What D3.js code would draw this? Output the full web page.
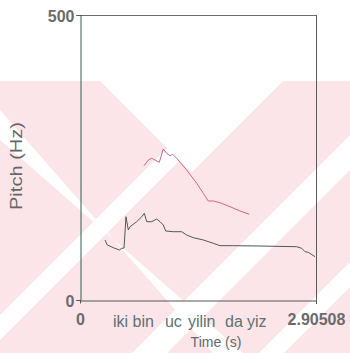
<!DOCTYPE html>
<html><head><meta charset="utf-8">
<script src="https://cdn.jsdelivr.net/npm/d3@7"></script>
<style>body{margin:0;background:#fff}svg{display:block}</style>
</head><body>
<svg id="c" width="350" height="353"></svg>
<script>
// Data
const lowTime  = [0.308,0.336,0.410,0.484,0.513,0.542,0.566,0.595,0.616,0.698,0.760,0.792,0.821,0.883,0.944,0.985,1.025,1.055,1.149,1.252,1.313,1.395,1.518,1.641,1.723,1.887,2.216,2.668,2.729,2.770,2.810,2.893];
const lowPitch = [105.3,96.5,91.8,87.7,90.7,91.2,146.1,122.8,128.6,137.4,146.1,152.1,137.4,137.4,142.1,137.4,131.6,121.1,119.8,119.8,114.0,109.3,105.3,99.5,95.3,95.3,94.7,93.5,90.7,84.7,83.7,76.0];
const highTime  = [0.788,0.841,0.883,0.923,0.976,1.025,1.067,1.108,1.141,1.190,1.313,1.437,1.518,1.579,1.641,1.723,1.847,1.970,2.084];
const highPitch = [235.6,245.6,248.6,245.6,241.6,264.9,257.4,253.2,255.6,248.6,228.1,204.7,187.2,173.7,173.7,170.7,163.7,156.1,150.4];
const xTicks = [0, 2.90508];
const xTickLabels = ["0", "2.90508"];
const yTicks = [0, 500];
const yTickLabels = ["0", "500"];
const wordLabels = ["iki bin", "uc", "yilin", "da", "yiz"];
const wordTimes  = [0.406, 1.046, 1.329, 1.785, 2.056];
const xTitle = "Time (s)";
const yTitle = "Pitch (Hz)";

const svg = d3.select("#c");
const W = 350, H = 353;
const x = d3.scaleLinear().domain([0, 2.90508]).range([80, 316]);
const y = d3.scaleLinear().domain([0, 500]).range([300, 15]);

// faint scanned watermark in the background
const wm = svg.append("g");
wm.append("rect").attr("x",0).attr("y",81).attr("width",W).attr("height",H-81).attr("fill","#fce5e9");
const whites = [
  [[100,81],[283,81],[191.5,172.5]],
  [[0,110],[0,140],[243,353],[213,353]],
  [[234,81],[259,81],[0,340],[0,315]],
  [[350,135],[350,170],[167,353],[132,353]],
  [[350,262],[350,287],[284,353],[259,353]]
];
whites.forEach(p => wm.append("path").attr("d", d3.line()(p) + "Z").attr("fill","#ffffff"));

// frame
const fr = svg.append("g").attr("fill","none").attr("stroke-width",1);
fr.append("line").attr("x1",x(0)).attr("x2",x(2.90508)).attr("y1",y(500)+0.5).attr("y2",y(500)+0.5).attr("stroke","#6a6a6a");
fr.append("line").attr("x1",x(2.90508)+0.5).attr("x2",x(2.90508)+0.5).attr("y1",y(500)).attr("y2",y(0)+4).attr("stroke","#5a5a5a");

// axes
const yAxis = d3.axisLeft(y).tickValues(yTicks).tickFormat((d,i)=>yTickLabels[i]).tickSize(4).tickPadding(2);
const gy = svg.append("g").attr("transform","translate(80.5,0)").call(yAxis);
gy.select(".domain").attr("stroke","#2f5d55");
gy.selectAll(".tick line").attr("stroke","#555");
gy.selectAll(".tick text").attr("font-family","Liberation Sans, Arial, sans-serif").attr("font-size",16).attr("font-weight","bold").attr("fill","#6b6b6b").attr("dy","0.38em");

const xAxis = d3.axisBottom(x).tickValues(xTicks).tickFormat((d,i)=>xTickLabels[i]).tickSize(3).tickSizeOuter(0).tickPadding(10);
const gx = svg.append("g").attr("transform","translate(0,300.5)").call(xAxis);
gx.select(".domain").attr("stroke","#555");
gx.selectAll(".tick line").attr("stroke","#555");
gx.selectAll(".tick text").attr("font-family","Liberation Sans, Arial, sans-serif").attr("font-size",16).attr("font-weight","bold").attr("fill","#6b6b6b");

// titles
svg.append("text").attr("x",216).attr("y",347).attr("text-anchor","middle")
  .attr("font-family","Liberation Sans, Arial, sans-serif").attr("font-size",14).attr("fill","#5f6b6b").text(xTitle);
svg.append("text").attr("transform","translate(22,166) rotate(-90)").attr("text-anchor","middle")
  .attr("font-family","Liberation Sans, Arial, sans-serif").attr("font-size",17).attr("fill","#666")
  .attr("textLength",88).attr("lengthAdjust","spacingAndGlyphs").text(yTitle);

// word labels
svg.append("g").selectAll("text").data(wordLabels).join("text")
  .attr("x",(d,i)=>x(wordTimes[i])).attr("y",327)
  .attr("font-family","Liberation Sans, Arial, sans-serif").attr("font-size",16).attr("fill","#5e7272")
  .text(d=>d);

// series
const lineGen = d3.line().x(d=>x(d[0])).y(d=>y(d[1]));
svg.append("path").datum(lowTime.map((t,i)=>[t,lowPitch[i]]))
  .attr("d",lineGen).attr("fill","none").attr("stroke","#4b5a56").attr("stroke-width",1);
svg.append("path").datum(highTime.map((t,i)=>[t,highPitch[i]]))
  .attr("d",lineGen).attr("fill","none").attr("stroke","#d4648a").attr("stroke-width",1);
</script>
</body></html>
